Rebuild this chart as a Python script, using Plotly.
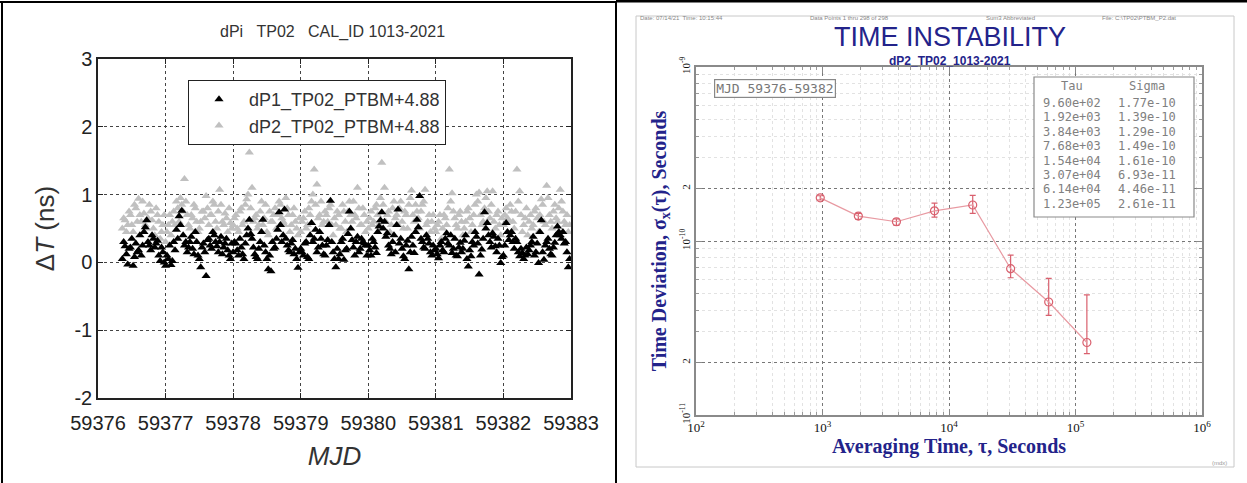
import plotly.graph_objects as go

# ---------------- Left panel data ----------------
mjd = [
    59376.36, 59376.40, 59376.44, 59376.48, 59376.52, 59376.56, 59376.60, 59376.64,
    59376.68, 59376.72, 59376.76, 59376.80, 59376.84, 59376.88, 59376.92, 59376.96,
    59377.00, 59377.04, 59377.08, 59377.12, 59377.16, 59377.20, 59377.24, 59377.28, 59377.32,
    59377.36, 59377.40, 59377.44, 59377.48, 59377.52, 59377.56, 59377.60, 59377.64, 59377.68,
    59377.72, 59377.76, 59377.80, 59377.84, 59377.88, 59377.92, 59377.96,
    59378.00, 59378.04, 59378.08, 59378.12, 59378.16, 59378.20, 59378.24, 59378.28, 59378.32,
    59378.36, 59378.40, 59378.44, 59378.48, 59378.52, 59378.56, 59378.60, 59378.64, 59378.68,
    59378.72, 59378.76, 59378.80, 59378.84, 59378.88, 59378.92, 59378.96,
    59379.00, 59379.04, 59379.08, 59379.12, 59379.16, 59379.20, 59379.24, 59379.28, 59379.32,
    59379.36, 59379.40, 59379.44, 59379.48, 59379.52, 59379.56, 59379.60, 59379.64, 59379.68,
    59379.72, 59379.76, 59379.80, 59379.84, 59379.88, 59379.92, 59379.96,
    59380.00, 59380.04, 59380.08, 59380.12, 59380.16, 59380.20, 59380.24, 59380.28, 59380.32,
    59380.36, 59380.40, 59380.44, 59380.48, 59380.52, 59380.56, 59380.60, 59380.64, 59380.68,
    59380.72, 59380.76, 59380.80, 59380.84, 59380.88, 59380.92, 59380.96,
    59381.00, 59381.04, 59381.08, 59381.12, 59381.16, 59381.20, 59381.24, 59381.28, 59381.32,
    59381.36, 59381.40, 59381.44, 59381.48, 59381.52, 59381.56, 59381.60, 59381.64, 59381.68,
    59381.72, 59381.76, 59381.80, 59381.84, 59381.88, 59381.92, 59381.96,
    59382.00, 59382.04, 59382.08, 59382.12, 59382.16, 59382.20, 59382.24, 59382.28, 59382.32,
    59382.36, 59382.40, 59382.44, 59382.48, 59382.52, 59382.56, 59382.60, 59382.64, 59382.68,
    59382.72, 59382.76, 59382.80, 59382.84, 59382.88, 59382.92, 59382.96,
]
dp1 = [
    0.05, 0.24, -0.03, 0.22, -0.05, 0.28, 0.18, 0.10, 0.45, 0.62, 0.25, 0.40, 0.22, 0.32, 0.02, 0.15,
    -0.05, 0.05, -0.04, 0.30, 0.48, 0.68, 0.76, 0.25, 0.15, 0.30, 0.20, 0.45, 0.10, -0.07, 0.28, -0.20,
    0.35, 0.20, 0.40, 0.24, 0.30, 0.12, 0.28, 0.18, 0.05,
    0.15, 0.28, 0.10, 0.22, 0.05, 0.40, 0.63, 0.35, 0.12, 0.05, 0.30, 0.63, 0.15, -0.10, -0.13, 0.20,
    0.35, 0.74, 0.30, 0.78, 0.25, 0.15, 0.33, 0.20, -0.08,
    0.20, 0.10, 0.30, 0.05, 0.58, 0.35, 0.15, 0.45, 0.25, 0.10, 0.33, 0.91, 0.15, -0.07, 0.05, 0.30,
    0.04, 0.20, 0.75, 0.33, 0.10, 0.38, 0.20, 0.30, 0.25,
    0.25, 0.10, 0.30, 0.14, 0.53, 0.74, 0.60, 0.43, 0.20, 0.30, 0.15, 0.78, 0.35, 0.09, 0.25, -0.10,
    0.38, 0.14, 0.63, 0.98, 0.30, 0.20, 0.35, 0.15, 0.25,
    0.20, 0.06, 0.30, 0.15, 0.43, 0.25, 0.14, 0.35, 0.09, 0.29, 0.20, 0.40, -0.06, 0.09, 0.25, 0.38,
    -0.18, 0.19, 0.74, 0.58, 0.30, 0.43, 0.24, 0.35, -0.01,
    0.10, 0.58, 0.33, 0.45, 0.20, 0.30, 0.09, 0.14, 0.10, 0.12, 0.25, 0.38, 0.15, -0.01, 0.62, 0.04,
    0.30, 0.20, 0.10, 0.29, 0.53, 0.40, 0.45, 0.30, -0.07,
]
dp2 = [
    0.50, 0.62, 0.55, 0.70, 0.45, 0.80, 0.94, 0.60, 0.72, 0.50, 0.85, 0.62, 0.40, 0.70, 0.35, 0.55,
    0.30, 0.55, 0.40, 0.75, 0.90, 0.60, 0.85, 1.23, 0.70, 0.50, 0.65, 0.80, 0.45, 0.60, 0.75, 0.98,
    0.55, 0.70, 0.85, 0.50, 1.07, 0.60, 0.72, 0.45, 0.58,
    0.55, 0.70, 0.45, 0.80, 0.60, 0.93, 1.62, 1.10, 0.65, 0.50, 0.75, 0.55, 0.85, 0.40, 0.60, 0.70,
    0.50, 0.90, 0.65, 0.55, 0.80, 0.45, 0.70, 0.60, 0.40,
    0.45, 0.65, 0.50, 0.80, 0.90, 1.37, 1.15, 0.70, 0.55, 0.75, 0.60, 0.85, 0.40, 0.55, 0.70, 0.50,
    0.75, 0.45, 0.90, 0.60, 0.70, 1.10, 0.55, 0.80, 0.45,
    0.50, 0.75, 0.60, 0.85, 0.55, 1.47, 1.10, 0.70, 0.45, 0.80, 0.65, 0.55, 0.90, 0.50, 0.70, 0.85,
    1.06, 0.60, 0.75, 0.50, 0.85, 1.07, 0.60, 0.45, 0.70,
    0.45, 0.60, 0.35, 0.70, 0.55, 1.37, 1.02, 0.65, 0.50, 0.75, 0.40, 0.60, 0.80, 0.45, 0.70, 1.00,
    1.03, 0.55, 0.80, 1.05, 0.65, 1.05, 0.50, 0.75, 0.40,
    0.55, 0.80, 0.60, 0.75, 0.50, 1.37, 1.05, 0.45, 0.65, 0.40, 0.70, 0.55, 0.80, 0.45, 0.93, 0.60,
    1.13, 0.70, 0.50, 0.85, 0.60, 1.07, 0.75, 0.55, 0.45,
]
# second batch of samples, between the ones above
mjd_b = [
    59376.38, 59376.42, 59376.46, 59376.50, 59376.54, 59376.58, 59376.62, 59376.66,
    59376.70, 59376.74, 59376.78, 59376.82, 59376.86, 59376.90, 59376.94, 59376.98,
    59377.02, 59377.06, 59377.10, 59377.14, 59377.18, 59377.22, 59377.26, 59377.30, 59377.34,
    59377.38, 59377.42, 59377.46, 59377.50, 59377.54, 59377.58, 59377.62, 59377.66, 59377.70,
    59377.74, 59377.78, 59377.82, 59377.86, 59377.90, 59377.94, 59377.98,
    59378.02, 59378.06, 59378.10, 59378.14, 59378.18, 59378.22, 59378.26, 59378.30, 59378.34,
    59378.38, 59378.42, 59378.46, 59378.50, 59378.54, 59378.58, 59378.62, 59378.66, 59378.70,
    59378.74, 59378.78, 59378.82, 59378.86, 59378.90, 59378.94, 59378.98,
    59379.02, 59379.06, 59379.10, 59379.14, 59379.18, 59379.22, 59379.26, 59379.30, 59379.34,
    59379.38, 59379.42, 59379.46, 59379.50, 59379.54, 59379.58, 59379.62, 59379.66, 59379.70,
    59379.74, 59379.78, 59379.82, 59379.86, 59379.90, 59379.94, 59379.98,
    59380.02, 59380.06, 59380.10, 59380.14, 59380.18, 59380.22, 59380.26, 59380.30, 59380.34,
    59380.38, 59380.42, 59380.46, 59380.50, 59380.54, 59380.58, 59380.62, 59380.66, 59380.70,
    59380.74, 59380.78, 59380.82, 59380.86, 59380.90, 59380.94, 59380.98,
    59381.02, 59381.06, 59381.10, 59381.14, 59381.18, 59381.22, 59381.26, 59381.30, 59381.34,
    59381.38, 59381.42, 59381.46, 59381.50, 59381.54, 59381.58, 59381.62, 59381.66, 59381.70,
    59381.74, 59381.78, 59381.82, 59381.86, 59381.90, 59381.94, 59381.98,
    59382.02, 59382.06, 59382.10, 59382.14, 59382.18, 59382.22, 59382.26, 59382.30, 59382.34,
    59382.38, 59382.42, 59382.46, 59382.50, 59382.54, 59382.58, 59382.62, 59382.66, 59382.70,
    59382.74, 59382.78, 59382.82, 59382.86, 59382.90, 59382.94, 59382.98,
]
dp1_b = [
    0.30, 0.12, 0.20, 0.35, 0.08, 0.15, 0.40, 0.25, 0.52, 0.30, 0.18, 0.35, 0.28, 0.10, 0.22, 0.00,
    0.10, 0.25, 0.02, 0.18, 0.35, 0.55, 0.40, 0.30, 0.22, 0.38, 0.12, 0.30, 0.05, 0.22, 0.15, 0.33,
    0.25, 0.45, 0.30, 0.15, 0.38, 0.22, 0.35, 0.10, 0.28,
    0.30, 0.18, 0.35, 0.12, 0.28, 0.50, 0.42, 0.22, 0.08, 0.20, 0.45, 0.25, 0.05, 0.10, 0.30, 0.22,
    0.48, 0.55, 0.40, 0.35, 0.18, 0.28, 0.12, 0.05, 0.15,
    0.15, 0.28, 0.08, 0.40, 0.30, 0.48, 0.22, 0.35, 0.12, 0.25, 0.55, 0.30, 0.05, 0.20, 0.12, 0.35,
    0.18, 0.42, 0.50, 0.22, 0.30, 0.15, 0.35, 0.28, 0.10,
    0.18, 0.35, 0.22, 0.45, 0.62, 0.50, 0.38, 0.25, 0.12, 0.40, 0.55, 0.28, 0.20, 0.05, 0.32, 0.15,
    0.25, 0.45, 0.52, 0.35, 0.22, 0.40, 0.28, 0.10, 0.18,
    0.12, 0.25, 0.18, 0.35, 0.28, 0.40, 0.20, 0.10, 0.22, 0.15, 0.32, 0.05, 0.18, 0.30, 0.45, 0.28,
    0.10, 0.35, 0.50, 0.40, 0.22, 0.38, 0.15, 0.25, 0.08,
    0.25, 0.45, 0.40, 0.30, 0.35, 0.15, 0.20, 0.05, 0.22, 0.18, 0.30, 0.10, 0.28, 0.45, 0.15, 0.25,
    0.35, 0.12, 0.22, 0.40, 0.45, 0.35, 0.28, 0.15, 0.05,
]
dp2_b = [
    0.65, 0.45, 0.75, 0.55, 0.85, 0.60, 0.70, 0.90, 0.55, 0.65, 0.75, 0.50, 0.80, 0.60, 0.45, 0.70,
    0.45, 0.70, 0.60, 0.55, 0.80, 0.95, 0.75, 0.90, 0.55, 0.70, 0.85, 0.60, 0.50, 0.75, 0.65, 0.80,
    0.70, 0.90, 0.60, 0.75, 0.85, 0.55, 0.65, 0.80, 0.50,
    0.65, 0.50, 0.75, 0.55, 0.85, 1.00, 0.80, 0.60, 0.70, 0.55, 0.90, 0.65, 0.45, 0.75, 0.60, 0.80,
    0.70, 0.85, 0.60, 0.95, 0.70, 0.55, 0.80, 0.50, 0.65,
    0.60, 0.75, 0.55, 0.70, 1.00, 0.85, 0.65, 0.90, 0.60, 0.70, 0.80, 0.55, 0.65, 0.75, 0.50, 0.85,
    0.60, 0.75, 0.70, 0.90, 0.65, 0.80, 0.55, 0.70, 0.60,
    0.65, 0.55, 0.80, 0.70, 0.95, 0.85, 0.60, 0.75, 0.55, 0.90, 0.70, 0.80, 0.60, 0.75, 0.50, 0.95,
    0.70, 0.85, 0.65, 0.75, 0.90, 0.55, 0.70, 0.60, 0.50,
    0.55, 0.70, 0.50, 0.65, 0.80, 0.90, 0.75, 0.55, 0.70, 0.60, 0.50, 0.75, 0.65, 0.55, 0.85, 0.90,
    0.70, 0.60, 0.95, 0.75, 0.85, 0.60, 0.70, 0.55, 0.65,
    0.70, 0.65, 0.85, 0.60, 0.75, 0.90, 0.70, 0.55, 0.80, 0.60, 0.50, 0.75, 0.65, 0.70, 0.85, 0.55,
    0.95, 0.60, 0.75, 0.65, 0.80, 0.90, 0.60, 0.70, 0.55,
]
left_xticks = [59376, 59377, 59378, 59379, 59380, 59381, 59382, 59383]
left_xticktext = ["59376", "59377", "59378", "59379", "59380", "59381", "59382", "59383"]
left_yticks = [-2, -1, 0, 1, 2, 3]
left_yticktext = ["-2", "-1", "0", "1", "2", "3"]

# ---------------- Right panel data ----------------
tau = [960, 1920, 3840, 7680, 15400, 30700, 61400, 123000]
sigma = [1.77e-10, 1.39e-10, 1.29e-10, 1.49e-10, 1.61e-10, 6.93e-11, 4.46e-11, 2.61e-11]
sigma_hi = [1.82e-10, 1.44e-10, 1.34e-10, 1.65e-10, 1.83e-10, 8.3e-11, 6.1e-11, 4.9e-11]
sigma_lo = [1.72e-10, 1.33e-10, 1.23e-10, 1.37e-10, 1.44e-10, 6.15e-11, 3.74e-11, 2.25e-11]
right_xticks = [1e2, 1e3, 1e4, 1e5, 1e6]
right_xticktext = ["10<sup>2</sup>", "10<sup>3</sup>", "10<sup>4</sup>", "10<sup>5</sup>", "10<sup>6</sup>"]
right_yticks = [1e-11, 2e-11, 1e-10, 2e-10, 1e-9]
right_yticktext = ["10<sup>-11</sup>", "2", "10<sup>-10</sup>", "2", "10<sup>-9</sup>"]

W, H = 1247, 483
def X(px):
    return px / W
def Y(py):
    return 1 - py / H

NAVY = "#23238a"
fig = go.Figure()

fig.add_trace(go.Scatter(
    x=mjd + mjd_b, y=dp2 + dp2_b, mode="markers", name="dP2_TP02_PTBM+4.88", legendrank=2,
    marker=dict(symbol="triangle-up", size=8, color="#c0c0c0"),
    xaxis="x", yaxis="y"))
fig.add_trace(go.Scatter(
    x=mjd + mjd_b, y=dp1 + dp1_b, mode="markers", name="dP1_TP02_PTBM+4.88", legendrank=1,
    marker=dict(symbol="triangle-up", size=8, color="#000000"),
    xaxis="x", yaxis="y"))

err_plus = [h - s for h, s in zip(sigma_hi, sigma)]
err_minus = [s - l for s, l in zip(sigma, sigma_lo)]
fig.add_trace(go.Scatter(
    x=tau, y=sigma, mode="lines+markers", showlegend=False,
    line=dict(color="#e89aa2", width=1.2),
    marker=dict(symbol="circle-open", size=8, color="#d9606e", line=dict(width=1.2)),
    error_y=dict(type="data", array=err_plus, arrayminus=err_minus, visible=True,
                 color="#d9606e", thickness=1.2, width=3),
    xaxis="x2", yaxis="y2"))

axfont = dict(family="Liberation Sans, Arial", size=20, color="#222")
fig.update_layout(
    template="none",
    width=W, height=H, autosize=False,
    margin=dict(l=0, r=0, t=0, b=0, pad=0, autoexpand=False),
    paper_bgcolor="white", plot_bgcolor="white",
    font=dict(family="Liberation Sans, Arial", color="#222"),
    showlegend=True,
    legend=dict(x=X(188), y=Y(80), xanchor="left", yanchor="top",
                bordercolor="#222", borderwidth=1, bgcolor="white",
                font=dict(family="Liberation Sans, Arial", size=18, color="#333"),
                itemwidth=50, tracegroupgap=0),
    xaxis=dict(domain=[X(98), X(571)], range=[59376, 59383], tickvals=left_xticks,
               ticktext=left_xticktext, tickangle=0, automargin=False,
               anchor="y", showgrid=True, gridcolor="#444", griddash="dot", gridwidth=1,
               showline=True, linecolor="#222", linewidth=1.5, mirror="ticks",
               ticks="inside", ticklen=5, tickcolor="#222", tickfont=axfont,
               ticklabelstandoff=6, zeroline=False,
               title=dict(text="<i>MJD</i>", font=dict(family="Liberation Sans, Arial", size=26, color="#333"),
                          standoff=14)),
    yaxis=dict(domain=[Y(398), Y(59)], range=[-2, 3], tickvals=left_yticks,
               ticktext=left_yticktext, automargin=False,
               anchor="x", showgrid=True, gridcolor="#444", griddash="dot", gridwidth=1,
               showline=True, linecolor="#222", linewidth=1.5, mirror="ticks",
               ticks="inside", ticklen=5, tickcolor="#222", tickfont=axfont,
               zeroline=False,
               title=dict(text="Δ<i>T</i> (ns)", font=dict(family="Liberation Sans, Arial", size=26, color="#333"),
                          standoff=12)),
    xaxis2=dict(type="log", domain=[X(696), X(1202)], range=[2, 6], anchor="y2",
                tickvals=right_xticks, ticktext=right_xticktext, tickangle=0, automargin=False,
                tickfont=dict(family="Liberation Serif, Times New Roman", size=13, color="#111"),
                showgrid=True, gridcolor="#777", griddash="dot", gridwidth=1,
                minor=dict(showgrid=True, gridcolor="#e2e2e2", dtick="D1", ticks="inside",
                           ticklen=3, tickcolor="#999"),
                showline=True, linecolor="#8a8a8a", linewidth=1.5, mirror="ticks",
                ticks="inside", ticklen=6, tickcolor="#888", zeroline=False,
                title=dict(text="Averaging Time, τ, Seconds",
                           font=dict(family="Liberation Serif, Times New Roman", size=20,
                                     color=NAVY, weight="bold"), standoff=2)),
    yaxis2=dict(type="log", domain=[Y(415), Y(67)], range=[-11, -9], anchor="x2",
                tickvals=right_yticks, ticktext=right_yticktext, tickangle=-90, automargin=False,
                tickfont=dict(family="Liberation Serif, Times New Roman", size=11, color="#111"),
                showgrid=True, gridcolor="#777", griddash="dot", gridwidth=1,
                minor=dict(showgrid=True, gridcolor="#e2e2e2", dtick="D1", ticks="inside",
                           ticklen=3, tickcolor="#999"),
                showline=True, linecolor="#8a8a8a", linewidth=1.5, mirror="ticks",
                ticks="inside", ticklen=6, tickcolor="#888", zeroline=False,
                title=dict(text="Time Deviation, σ<sub>x</sub>(τ), Seconds",
                           font=dict(family="Liberation Serif, Times New Roman", size=20,
                                     color=NAVY, weight="bold"), standoff=6)),
)

shapes = []
shapes.append(dict(type="line", xref="paper", yref="paper", x0=X(2), x1=X(2), y0=0, y1=Y(1), line=dict(color="black", width=2)))
shapes.append(dict(type="line", xref="paper", yref="paper", x0=X(0), x1=X(617), y0=Y(2), y1=Y(2), line=dict(color="black", width=2)))
shapes.append(dict(type="line", xref="paper", yref="paper", x0=X(616), x1=X(616), y0=0, y1=Y(1), line=dict(color="black", width=2)))
shapes.append(dict(type="line", xref="paper", yref="paper", x0=X(616), x1=1, y0=Y(1), y1=Y(1), line=dict(color="black", width=3)))
shapes.append(dict(type="rect", xref="paper", yref="paper", x0=X(636), x1=X(1234), y0=Y(467), y1=Y(16), line=dict(color="#c8c8c8", width=1)))
shapes.append(dict(type="rect", xref="paper", yref="paper", x0=X(1034), x1=X(1194), y0=Y(217), y1=Y(77), line=dict(color="#8a8a8a", width=1.2), fillcolor="white"))
fig.update_layout(shapes=shapes)

def note(text, px, py, font, xa="center", **kw):
    return dict(text=text, x=X(px), y=Y(py), xref="paper", yref="paper", showarrow=False,
                xanchor=xa, yanchor="middle", font=font, **kw)

ann = []
ann.append(note("dPi\u00a0\u00a0\u00a0TP02\u00a0\u00a0\u00a0CAL_ID 1013-2021", 332, 32,
                dict(family="Liberation Sans, Arial", size=16, color="#333")))
hdr_font = dict(family="Liberation Sans, Arial", size=6, color="#888")
for txt, px in [("Date: 07/14/21  Time: 10:15:44", 638), ("Data Points 1 thru 298 of 298", 808),
                ("Sum3 Abbreviated", 984), ("File: C:\\TP02\\PTBM_P2.dat", 1100)]:
    ann.append(note(txt, px, 18, hdr_font, xa="left"))
ann.append(note("TIME INSTABILITY", 950, 37, dict(family="Liberation Sans, Arial", size=27, color=NAVY)))
ann.append(note("<b>dP2_TP02_1013-2021</b>", 950, 61, dict(family="Liberation Sans, Arial", size=12, color=NAVY)))
ann.append(note("MJD 59376-59382", 775, 89, dict(family="DejaVu Sans Mono", size=13, color="#777"),
                bordercolor="#888", borderwidth=1.2, borderpad=1, bgcolor="white"))
tab_font = dict(family="DejaVu Sans Mono", size=12, color="#808080")
ann.append(note("Tau", 1072, 86, tab_font))
ann.append(note("Sigma", 1147, 86, tab_font))
for i, (t, s) in enumerate(zip(tau, sigma)):
    yy = 103 + i * 14.4
    ann.append(note(f"{t:.2e}", 1072, yy, tab_font))
    ann.append(note(f"{s:.2e}", 1147, yy, tab_font))
ann.append(note("(mdx)", 1219, 463, dict(family="Liberation Sans, Arial", size=6, color="#999")))
fig.update_layout(annotations=ann)

fig.write_html("out.html", config={"responsive": False},
               post_script="document.body.style.margin='0';document.body.style.overflow='hidden';")
